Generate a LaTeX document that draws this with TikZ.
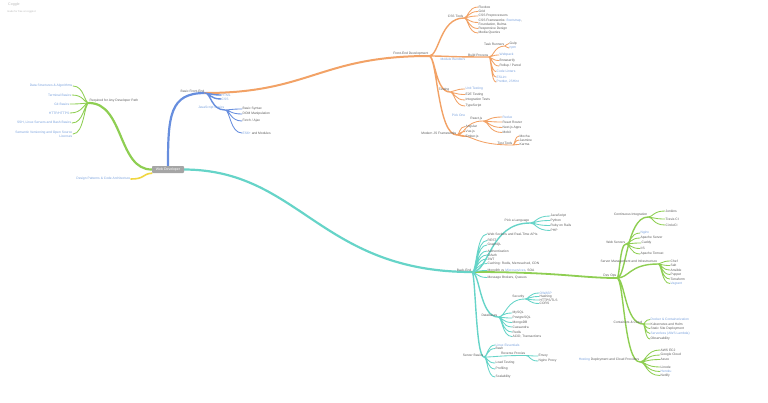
\documentclass[tikz,border=0pt]{standalone}
\usepackage{fontspec}
\setmainfont{Liberation Sans}
\usetikzlibrary{calc,backgrounds}

\definecolor{mmorange}{RGB}{242,162,102}
\definecolor{mmblue}{RGB}{103,142,222}
\definecolor{mmteal}{RGB}{102,212,200}
\definecolor{mmgreen}{RGB}{142,206,82}
\definecolor{mmyellow}{RGB}{240,214,64}
\definecolor{mmtext}{RGB}{90,90,90}
\definecolor{mmlink}{RGB}{120,160,220}
\definecolor{mmroot}{RGB}{165,165,165}
\definecolor{mmfaint}{RGB}{185,185,185}

\begin{document}
\begin{tikzpicture}[
  x=1pt, y=-1pt,
  txt/.style={inner sep=0.5pt, text=mmtext, font=\fontsize{3.3}{3.8}\selectfont},
  lnk/.style={text=mmlink},
  leaf/.style={txt, anchor=west, align=left},
  lleaf/.style={txt, anchor=east, align=right},
  hub/.style={txt, anchor=south east},
  rootbox/.style={fill=mmroot, text=white, rounded corners=0.8pt, minimum width=32pt, minimum height=7pt, inner sep=0.5pt, font=\fontsize{3.5}{4}\selectfont},
  fan/.style={to path={.. controls ($(\tikztostart)!0.3!(\tikztostart-|\tikztotarget)$) and ($(\tikztotarget)!0.7!(\tikztotarget-|\tikztostart)$) .. (\tikztotarget)}},
  main/.style={line width=2.2pt, line cap=round},
  sub/.style={line width=1.4pt, line cap=round},
  twig/.style={line width=0.85pt, line cap=round}
]
\useasboundingbox (0,0) rectangle (768,402);

% title
\node[anchor=west, inner sep=0pt, text=mmfaint, font=\fontsize{3.6}{4}\selectfont] (title) at (8,5) {Coggle};
\node[anchor=west, inner sep=0pt, text=mmfaint, font=\fontsize{2.6}{3}\selectfont] (credit) at (7,12) {made for free at coggle.it};

% root
\node[rootbox] (root) at (168,169.5) {Web Developer};

% fundamentals (left)
\node[txt, anchor=south west] (fund) at (89,103) {Required for Any Developer Path};
\node[lleaf, lnk] (lg1) at (73,86) {Data Structures \& Algorithms};
\node[lleaf, lnk] (lg2) at (72,95) {Terminal Basics};
\node[lleaf, lnk] (lg3) at (70,104) {Git Basics};
\node[lleaf, lnk] (lg4) at (70,113) {HTTP/HTTPS};
\node[lleaf, lnk] (lg5) at (72,123) {SSH, Linux Servers and Bash Basics};
\node[lleaf, lnk] (lg6) at (73,134) {Semantic Versioning and Open Source\\Licenses};
\node[lleaf, lnk] (design) at (131,179) {Design Patterns \& Code Architecture};

% basic front-end
\node[hub] (bfe) at (205,93) {Basic Front-End};
\node[leaf, lnk] (lb1) at (221,95) {HTML};
\node[leaf, lnk] (lb2) at (221,99) {CSS};
\node[hub, lnk] (js) at (225,110) {JavaScript Basics};
\node[leaf] (lb3) at (242,109) {Basic Syntax};
\node[leaf] (lb4) at (242,114) {DOM Manipulation};
\node[leaf] (lb5) at (242,121) {Fetch / Ajax};
\node[leaf] (lb6) at (242,133) {\textcolor{mmlink}{ES6+} and Modules};

% front-end development
\node[hub] (fe) at (429,56) {Front-End Development};
\node[hub] (oa) at (464,18) {CSS Tools};
\node[leaf] (oa1) at (478,7) {Flexbox};
\node[leaf] (oa2) at (478,11.5) {Grid};
\node[leaf] (oa3) at (478,16) {CSS Preprocessors};
\node[leaf] (oa4) at (478,22.5) {CSS Frameworks: \textcolor{mmlink}{Bootstrap},\\Foundation, Bulma};
\node[leaf] (oa5) at (478,28.5) {Responsive Design};
\node[leaf] (oa6) at (478,33) {Media Queries};
\node[hub] (ob) at (489,57) {Build Process};
\node[txt, lnk, anchor=north east] (obnote) at (466,57.5) {Module Bundlers};
\node[hub] (oc) at (505,46) {Task Runners};
\node[leaf] (oc1) at (509,43.5) {Gulp};
\node[leaf, lnk] (oc2) at (509,48) {npm};
\node[leaf, lnk] (ob1) at (499,55) {Webpack};
\node[leaf] (ob2) at (499,60.5) {Browserify};
\node[leaf] (ob3) at (499,66) {Rollup / Parcel};
\node[leaf, lnk] (ob4) at (496,71.5) {Code Linters};
\node[leaf, lnk] (ob5) at (496,77) {ESLint};
\node[leaf, lnk] (ob6) at (496,82) {Prettier, JSHint};
\node[hub] (od) at (450,92) {Testing};
\node[leaf, lnk] (od1) at (465,89) {Unit Testing};
\node[leaf] (od2) at (465,94.5) {E2E Testing};
\node[leaf] (od3) at (465,100) {Integration Tests};
\node[leaf] (od4) at (465,106) {TypeScript};
\node[hub] (oe) at (457,135) {Modern JS Frameworks};
\node[hub] (of) at (483,121) {React.js};
\node[txt, lnk, anchor=south east] (ofnote) at (466,117) {Pick One};
\node[leaf, lnk] (of1) at (502,117) {Redux};
\node[leaf] (of2) at (502,122) {React Router};
\node[leaf] (of3) at (502,127.5) {Next.js Apps};
\node[leaf] (of4) at (502,132.5) {MobX};
\node[leaf] (oe1) at (465,126.5) {Angular};
\node[leaf] (oe2) at (465,131.5) {Vue.js};
\node[leaf] (oe3) at (465,136.5) {Ember.js};
\node[hub] (og) at (513,145) {Test Tools};
\node[leaf] (og1) at (519,136) {Mocha};
\node[leaf] (og2) at (519,140) {Jasmine};
\node[leaf] (og3) at (519,144.5) {Karma};

% back-end
\node[hub] (be) at (472,272) {Back-End};
\node[hub] (ta) at (530,223) {Pick a Language};
\node[leaf] (ta1) at (550,216) {JavaScript};
\node[leaf] (ta2) at (550,220.5) {Python};
\node[leaf] (ta3) at (550,225.5) {Ruby on Rails};
\node[leaf] (ta4) at (550,230.5) {PHP};
\node[leaf] (tb1) at (487,234) {Web Sockets and Real-Time APIs};
\node[leaf] (tb2) at (487,240.5) {REST};
\node[leaf] (tb3) at (487,245) {GraphQL};
\node[leaf] (tb4) at (487,251) {Authentication};
\node[leaf] (tb5) at (487,255) {OAuth};
\node[leaf] (tb6) at (487,259) {JWT};
\node[leaf] (tb7) at (487,263.5) {Caching: Redis, Memcached, CDN};
\node[leaf] (tb8) at (487,270.5) {Monolith vs \textcolor{mmlink}{Microservices}, SOA};
\node[leaf] (tb9) at (487,277.5) {Message Brokers, Queues};
\node[hub] (tc) at (498,317) {Databases};
\node[hub] (td) at (525,299) {Security};
\node[leaf, lnk] (td1) at (539,293) {OWASP};
\node[leaf] (td2) at (539,296.5) {Hashing};
\node[leaf] (td3) at (539,300) {HTTPS/TLS};
\node[leaf] (td4) at (539,303.5) {CORS};
\node[leaf] (tc1) at (512,313) {MySQL};
\node[leaf] (tc2) at (512,318) {PostgreSQL};
\node[leaf] (tc3) at (512,322.5) {MongoDB};
\node[leaf] (tc4) at (512,327) {Cassandra};
\node[leaf] (tc5) at (512,332) {Redis};
\node[leaf] (tc6) at (512,336.5) {ACID, Transactions};
\node[hub] (te) at (484,357) {Server Basics};
\node[leaf, lnk] (te1) at (495,345) {Linux Essentials};
\node[leaf] (te2) at (495,348.5) {Bash};
\node[hub] (te3) at (526,355.5) {Reverse Proxies};
\node[leaf] (te31) at (538,356) {Envoy};
\node[leaf] (te32) at (538,361) {Nginx Proxy};
\node[leaf] (te4) at (495,363) {Load Testing};
\node[leaf] (te5) at (495,369) {Profiling};
\node[leaf] (te6) at (495,377) {Scalability};

% dev ops
\node[hub] (dv) at (617,278) {Dev Ops};
\node[hub] (dg) at (648,217) {Continuous Integration};
\node[leaf] (dg1) at (665,211) {Jenkins};
\node[leaf] (dg2) at (665,219) {Travis CI};
\node[leaf] (dg3) at (665,225) {CircleCI};
\node[hub] (dw) at (626,244) {Web Servers};
\node[leaf, lnk] (dw1) at (640,233) {Nginx};
\node[leaf] (dw2) at (640,238) {Apache Server};
\node[leaf] (dw3) at (641,243) {Caddy};
\node[leaf] (dw4) at (640,248.5) {IIS};
\node[leaf] (dw5) at (640,254) {Apache Tomcat};
\node[hub] (ds) at (658,264) {Server Management and Infrastructure};
\node[leaf] (ds1) at (670,261) {Chef};
\node[leaf] (ds2) at (670,265.5) {Salt};
\node[leaf] (ds3) at (670,270) {Ansible};
\node[leaf] (ds4) at (670,274.5) {Puppet};
\node[leaf] (ds5) at (670,279) {Terraform};
\node[leaf, lnk] (ds6) at (670,283.5) {Vagrant};
\node[hub] (dd) at (643,324) {Containers \& Cloud};
\node[leaf, lnk] (dd1) at (650,319.5) {Docker \& Containerization};
\node[leaf] (dd2) at (650,324) {Kubernetes and Helm};
\node[leaf] (dd3) at (650,328.5) {Static Site Deployment};
\node[leaf, lnk] (dd4) at (650,333.5) {Serverless (AWS Lambda)};
\node[leaf] (dd5) at (650,339) {Observability};
\node[hub] (dc) at (640,362) {\textcolor{mmlink}{Hosting} Deployment and Cloud Providers};
\node[leaf] (dc1) at (660,350) {AWS EC2};
\node[leaf] (dc2) at (660,355) {Google Cloud};
\node[leaf] (dc3) at (660,359.5) {Azure};
\node[leaf] (dc4) at (660,367) {Linode};
\node[leaf, lnk] (dc5) at (660,371.5) {Heroku};
\node[leaf] (dc6) at (660,375.5) {Netlify};

\begin{scope}[on background layer]
% main branches
\draw[mmgreen, main] (root.west) .. controls (118,170) and (124,103) .. (fund.south west);
\draw[mmyellow, line width=1.6pt, line cap=round] (root.south west) .. controls (142,174) and (145,179) .. (design.east);
\draw[mmblue, main] (root.north) .. controls (168,115) and (170,93) .. (bfe.south east);
\draw[mmorange, line width=2pt, line cap=round] (bfe.south east) .. controls (310,93) and (320,56) .. (fe.south east);
\draw[mmteal, main] (root.east) .. controls (300,170) and (320,272) .. (be.south east);
\draw[mmgreen, line width=1.8pt, line cap=round] (be.south east) .. controls (560,272) and (580,278) .. (dv.south east);

% fundamentals
\draw[mmgreen, twig] (fund.south west) to[fan] (lg1.east) (fund.south west) to[fan] (lg2.east)
  (fund.south west) to[fan] (lg3.east) (fund.south west) to[fan] (lg4.east)
  (fund.south west) to[fan] (lg5.east) (fund.south west) to[fan] (lg6.east);

% basic front-end
\draw[mmblue, sub] (bfe.south east) to[fan] (lb1.west) (bfe.south east) to[fan] (lb2.west)
  (bfe.south east) to[fan] (js.south east);
\draw[mmblue, twig] (js.south east) to[fan] (lb3.west) (js.south east) to[fan] (lb4.west)
  (js.south east) to[fan] (lb5.west) (js.south east) to[fan] (lb6.west);

% front-end development
\draw[mmorange, sub] (fe.south east) to[fan] (oa.south east) (fe.south east) to[fan] (ob.south east)
  (fe.south east) to[fan] (od.south east) (fe.south east) to[fan] (oe.south east);
\draw[mmorange, twig] (oa.south east) to[fan] (oa1.west) (oa.south east) to[fan] (oa2.west)
  (oa.south east) to[fan] (oa3.west) (oa.south east) to[fan] (oa4.west)
  (oa.south east) to[fan] (oa5.west) (oa.south east) to[fan] (oa6.west);
\draw[mmorange, twig] (ob.south east) to[fan] (oc.south east) (ob.south east) to[fan] (ob1.west)
  (ob.south east) to[fan] (ob2.west) (ob.south east) to[fan] (ob3.west)
  (ob.south east) to[fan] (ob4.west) (ob.south east) to[fan] (ob5.west) (ob.south east) to[fan] (ob6.west);
\draw[mmorange, twig] (oc.south east) to[fan] (oc1.west) (oc.south east) to[fan] (oc2.west);
\draw[mmorange, twig] (od.south east) to[fan] (od1.west) (od.south east) to[fan] (od2.west)
  (od.south east) to[fan] (od3.west) (od.south east) to[fan] (od4.west);
\draw[mmorange, twig] (oe.south east) to[fan] (of.south east) (oe.south east) to[fan] (oe1.west)
  (oe.south east) to[fan] (oe2.west) (oe.south east) to[fan] (oe3.west) (oe.south east) to[fan] (og.south east);
\draw[mmorange, twig] (of.south east) to[fan] (of1.west) (of.south east) to[fan] (of2.west)
  (of.south east) to[fan] (of3.west) (of.south east) to[fan] (of4.west);
\draw[mmorange, twig] (og.south east) to[fan] (og1.west) (og.south east) to[fan] (og2.west)
  (og.south east) to[fan] (og3.west);

% back-end
\draw[mmteal, sub] (be.south east) to[fan] (ta.south east) (be.south east) to[fan] (tc.south east)
  (be.south east) to[fan] (te.south east);
\draw[mmteal, twig] (be.south east) to[fan] (tb1.west) (be.south east) to[fan] (tb2.west)
  (be.south east) to[fan] (tb3.west) (be.south east) to[fan] (tb4.west)
  (be.south east) to[fan] (tb5.west) (be.south east) to[fan] (tb6.west)
  (be.south east) to[fan] (tb7.west) (be.south east) to[fan] (tb8.west) (be.south east) to[fan] (tb9.west);
\draw[mmteal, twig] (ta.south east) to[fan] (ta1.west) (ta.south east) to[fan] (ta2.west)
  (ta.south east) to[fan] (ta3.west) (ta.south east) to[fan] (ta4.west);
\draw[mmteal, twig] (tc.south east) to[fan] (td.south east) (tc.south east) to[fan] (tc1.west)
  (tc.south east) to[fan] (tc2.west) (tc.south east) to[fan] (tc3.west) (tc.south east) to[fan] (tc4.west)
  (tc.south east) to[fan] (tc5.west) (tc.south east) to[fan] (tc6.west);
\draw[mmteal, twig] (td.south east) to[fan] (td1.west) (td.south east) to[fan] (td2.west)
  (td.south east) to[fan] (td3.west) (td.south east) to[fan] (td4.west);
\draw[mmteal, twig] (te.south east) to[fan] (te1.west) (te.south east) to[fan] (te2.west)
  (te.south east) to[fan] (te3.south east) (te.south east) to[fan] (te4.west)
  (te.south east) to[fan] (te5.west) (te.south east) to[fan] (te6.west);
\draw[mmteal, twig] (te3.south east) to[fan] (te31.west) (te3.south east) to[fan] (te32.west);

% dev ops
\draw[mmgreen, sub] (dv.south east) to[fan] (dg.south east) (dv.south east) to[fan] (dw.south east)
  (dv.south east) to[fan] (ds.south east) (dv.south east) to[fan] (dd.south east) (dv.south east) to[fan] (dc.south east);
\draw[mmgreen, twig] (dg.south east) to[fan] (dg1.west) (dg.south east) to[fan] (dg2.west) (dg.south east) to[fan] (dg3.west);
\draw[mmgreen, twig] (dw.south east) to[fan] (dw1.west) (dw.south east) to[fan] (dw2.west)
  (dw.south east) to[fan] (dw3.west) (dw.south east) to[fan] (dw4.west) (dw.south east) to[fan] (dw5.west);
\draw[mmgreen, twig] (ds.south east) to[fan] (ds1.west) (ds.south east) to[fan] (ds2.west)
  (ds.south east) to[fan] (ds3.west) (ds.south east) to[fan] (ds4.west)
  (ds.south east) to[fan] (ds5.west) (ds.south east) to[fan] (ds6.west);
\draw[mmgreen, twig] (dd.south east) to[fan] (dd1.west) (dd.south east) to[fan] (dd2.west)
  (dd.south east) to[fan] (dd3.west) (dd.south east) to[fan] (dd4.west) (dd.south east) to[fan] (dd5.west);
\draw[mmgreen, twig] (dc.south east) to[fan] (dc1.west) (dc.south east) to[fan] (dc2.west)
  (dc.south east) to[fan] (dc3.west) (dc.south east) to[fan] (dc4.west)
  (dc.south east) to[fan] (dc5.west) (dc.south east) to[fan] (dc6.west);
\end{scope}
\end{tikzpicture}
\end{document}
